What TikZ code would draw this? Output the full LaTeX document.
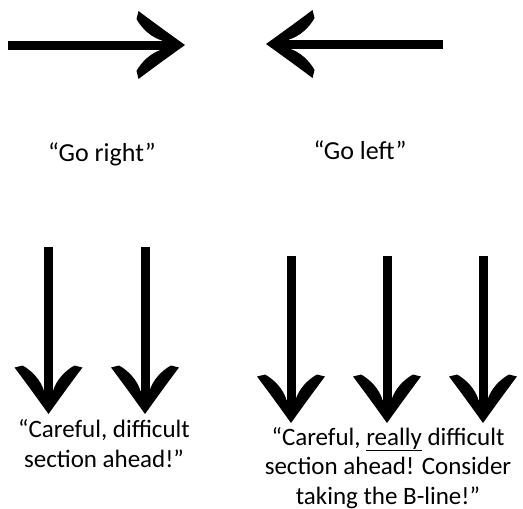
\documentclass[tikz,border=0pt]{standalone}
\usepackage{fontspec}
\setmainfont{Carlito}
\usetikzlibrary{arrows.meta}

\pgfdeclarearrow{
	name=Barb Head,
	setup code={
		\pgfarrowssettipend{0pt}
		\pgfarrowssetlineend{-20pt}
		\pgfarrowssetvisualbackend{-23pt}
		\pgfarrowssetbackend{-48pt}
		\pgfarrowshullpoint{0pt}{0pt}
		\pgfarrowshullpoint{-48pt}{34pt}
		\pgfarrowshullpoint{-48pt}{-34pt}
	},
	drawing code={
		\pgfpathmoveto{\pgfpoint{0pt}{0pt}}
		\pgfpathcurveto{\pgfpoint{-14pt}{10pt}}{\pgfpoint{-32pt}{23pt}}{\pgfpoint{-46.5pt}{34pt}}
		\pgfpathlineto{\pgfpoint{-48.5pt}{26pt}}
		\pgfpathcurveto{\pgfpoint{-44pt}{17.5pt}}{\pgfpoint{-34pt}{7.5pt}}{\pgfpoint{-23pt}{4.5pt}}
		\pgfpathlineto{\pgfpoint{-23pt}{-4.5pt}}
		\pgfpathcurveto{\pgfpoint{-34pt}{-7.5pt}}{\pgfpoint{-44pt}{-17.5pt}}{\pgfpoint{-48.5pt}{-26pt}}
		\pgfpathlineto{\pgfpoint{-46.5pt}{-34pt}}
		\pgfpathcurveto{\pgfpoint{-32pt}{-23pt}}{\pgfpoint{-14pt}{-10pt}}{\pgfpoint{0pt}{0pt}}
		\pgfpathclose
		\pgfusepathqfill
	}
}

\begin{document}
\begin{tikzpicture}[x=1pt,y=-1pt,
		signal/.style={line width=9pt,-{Barb Head}},
		call/.style={font=\fontsize{25}{29.5}\selectfont,align=center,anchor=base},
		bigcall/.style={call,font=\fontsize{26}{31}\selectfont}]
		\useasboundingbox (0,0) rectangle (523,509);

		% top row
		\coordinate (right start) at (8,45);
		\coordinate (right end) at (185,45);
		\coordinate (left start) at (443,44);
		\coordinate (left end) at (266,44);
		\draw[signal] (right start) -- (right end);
		\draw[signal] (left start) -- (left end);
		\node[bigcall] (go right) at (102,161) {“Go right”};
		\node[bigcall] (go left) at (360,159) {“Go left”};

		% two arrows
		\foreach \x [count=\i] in {48.5,145} {
			\coordinate (two start \i) at (\x,247);
			\coordinate (two end \i) at (\x,414);
			\draw[signal] (two start \i) -- (two end \i);
		}
		\node[call] (careful) at (104,467) {“Careful, difficult\\section ahead!”};

		% three arrows
		\foreach \x [count=\i] in {291,387,483} {
			\coordinate (three start \i) at (\x,256);
			\coordinate (three end \i) at (\x,423);
			\draw[signal] (three start \i) -- (three end \i);
		}
		\node[call] (really careful) at (388,504) {“Careful, \underline{really} difficult\\section ahead! Consider\\taking the B-line!”};
	\end{tikzpicture}
\end{document}
